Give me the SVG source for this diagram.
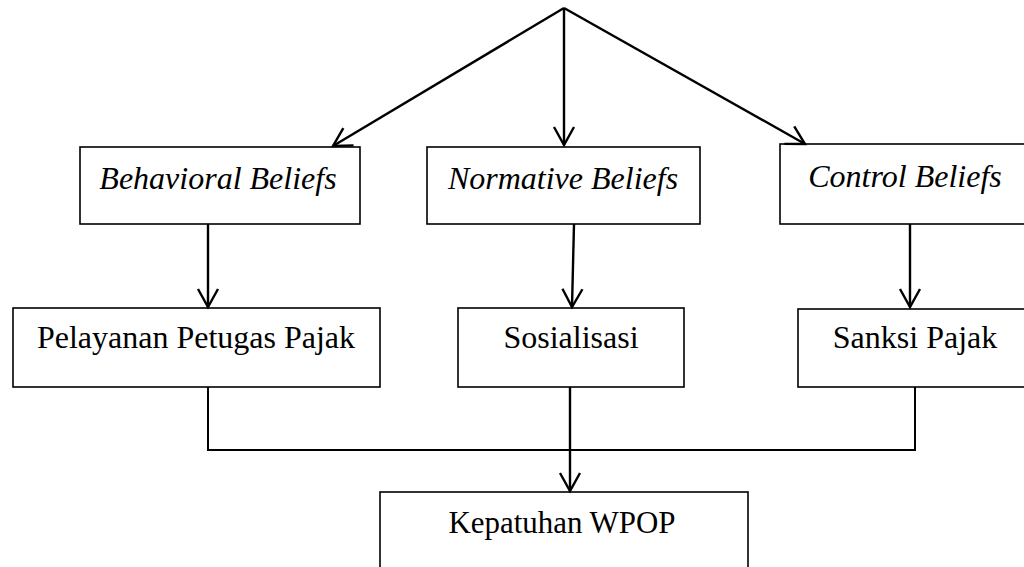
<svg xmlns="http://www.w3.org/2000/svg" width="1024" height="567" viewBox="0 0 1024 567">
  <style>
    .box { fill: #ffffff; stroke: #000000; stroke-width: 1.6; }
    .lbl { font-family: "Liberation Serif", "Times New Roman", serif; font-size: 32px; fill: #000000; text-anchor: middle; }
    .it { font-style: italic; }
    .edge { fill: none; stroke: #000000; stroke-width: 2.4; }
    .join { fill: none; stroke: #000000; stroke-width: 2; stroke-linejoin: miter; }
  </style>
  <defs>
    <marker id="open" viewBox="0 0 22 24" refX="19" refY="12" markerWidth="22" markerHeight="24" markerUnits="userSpaceOnUse" orient="auto">
      <path d="M1,2 L19,12 L1,22" fill="none" stroke="#000000" stroke-width="2.4"/>
    </marker>
  </defs>

  <rect width="1024" height="567" fill="#ffffff"/>

  <!-- belief layer -->
  <g id="behavioral-beliefs">
    <rect class="box" x="80" y="147" width="280" height="77"/>
    <text class="lbl it" x="218" y="189">Behavioral Beliefs</text>
  </g>
  <g id="normative-beliefs">
    <rect class="box" x="427" y="147" width="273" height="77"/>
    <text class="lbl it" x="563" y="189">Normative Beliefs</text>
  </g>
  <g id="control-beliefs">
    <rect class="box" x="780" y="144" width="260" height="80"/>
    <text class="lbl it" x="905" y="187">Control Beliefs</text>
  </g>

  <!-- factor layer -->
  <g id="pelayanan">
    <rect class="box" x="13" y="308" width="367" height="79"/>
    <text class="lbl" x="196" y="348">Pelayanan Petugas Pajak</text>
  </g>
  <g id="sosialisasi">
    <rect class="box" x="458" y="308" width="226" height="79"/>
    <text class="lbl" x="571" y="348">Sosialisasi</text>
  </g>
  <g id="sanksi">
    <rect class="box" x="798" y="309" width="240" height="78"/>
    <text class="lbl" x="915" y="348">Sanksi Pajak</text>
  </g>

  <!-- outcome -->
  <g id="kepatuhan">
    <rect class="box" x="380" y="492" width="368" height="90"/>
    <text class="lbl" x="562" y="533" textLength="227" lengthAdjust="spacingAndGlyphs">Kepatuhan WPOP</text>
  </g>

  <!-- connectors -->
  <g id="connectors">
    <line class="edge" x1="564" y1="8" x2="333" y2="146" marker-end="url(#open)"/>
    <line class="edge" x1="564" y1="8" x2="564" y2="145" marker-end="url(#open)"/>
    <line class="edge" x1="564" y1="8" x2="805" y2="144" marker-end="url(#open)"/>

    <line class="edge" x1="208" y1="224" x2="208" y2="307" marker-end="url(#open)"/>
    <line class="edge" x1="574" y1="224" x2="572" y2="307" marker-end="url(#open)"/>
    <line class="edge" x1="910" y1="224" x2="910" y2="307" marker-end="url(#open)"/>

    <polyline class="join" points="208,387 208,450 915,450 915,387"/>
    <line class="edge" x1="570" y1="387" x2="570" y2="491" marker-end="url(#open)"/>
  </g>
</svg>
